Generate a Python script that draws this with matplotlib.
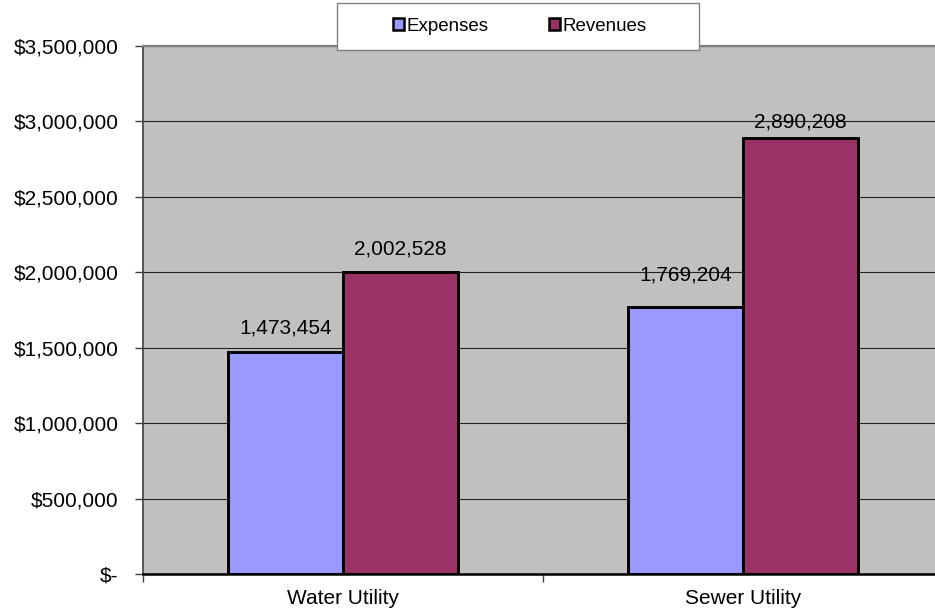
import matplotlib
matplotlib.use("Agg")
import matplotlib.pyplot as plt
from matplotlib.patches import Patch, Rectangle
from matplotlib.ticker import FuncFormatter, FixedLocator
import numpy as np

# Utility fund totals
categories = ["Water Utility", "Sewer Utility"]
expenses = [1473454, 1769204]
revenues = [2002528, 2890208]
series_names = ["Expenses", "Revenues"]
y_ticks = [0, 500000, 1000000, 1500000, 2000000, 2500000, 3000000, 3500000]

# label offsets above bar tops (points)
exp_label_offsets = [17.0, 23.0]
rev_label_offsets = [16.5, 11.5]

plt.rcParams["font.family"] = ["Liberation Sans", "DejaVu Sans"]

W, H = 935, 615
fig = plt.figure(figsize=(W / 100, H / 100), dpi=100)
fig.patch.set_facecolor("white")

left, right, top, bottom = 143, 943, 46, 574
ax = fig.add_axes([left / W, 1 - bottom / H, (right - left) / W, (bottom - top) / H])
ax.set_facecolor("#C0C0C0")

x = np.arange(len(categories))
bw = 0.2875
exp_color = "#9999FF"
rev_color = "#993366"

ax.bar(x - bw / 2, expenses, width=bw, color=exp_color, edgecolor="black",
       linewidth=2.1, zorder=3)
ax.bar(x + bw / 2, revenues, width=bw, color=rev_color, edgecolor="black",
       linewidth=2.1, zorder=3)

for xi, v, off in zip(x - bw / 2, expenses, exp_label_offsets):
    ax.annotate(f"{v:,}", (xi, v), xytext=(0, off), textcoords="offset points",
                ha="center", va="center", fontsize=15, zorder=5)
for xi, v, off in zip(x + bw / 2, revenues, rev_label_offsets):
    ax.annotate(f"{v:,}", (xi, v), xytext=(0, off), textcoords="offset points",
                ha="center", va="center", fontsize=15, zorder=5)

ax.set_xlim(-0.5, len(categories) - 0.5)
ax.set_ylim(0, 3500000)

ax.yaxis.set_major_locator(FixedLocator(y_ticks))
ax.yaxis.set_major_formatter(FuncFormatter(lambda v, p: "$-" if v == 0 else f"${v:,.0f}"))
ax.tick_params(axis="y", length=6, width=1, color="#404040", pad=11.5, labelsize=15)
ax.grid(axis="y", color="#222222", linewidth=0.8, zorder=1)

ax.set_xticks(x)
ax.set_xticklabels(categories)
ax.set_xticks([-0.5, 0.5, 1.5], minor=True)
ax.tick_params(axis="x", which="major", length=0, pad=11, labelsize=15)
ax.tick_params(axis="x", which="minor", length=6, width=1, color="#404040")

ax.spines["bottom"].set_color("black")
ax.spines["bottom"].set_linewidth(1.8)
ax.spines["bottom"].set_zorder(4)
ax.spines["left"].set_color("#404040")
ax.spines["left"].set_linewidth(1.2)
ax.spines["top"].set_color("#808080")
ax.spines["top"].set_linewidth(1.6)
ax.spines["right"].set_visible(False)

# legend box
lx0, ly0, lx1, ly1 = 337, 3, 699, 50
box = Rectangle((lx0 / W, 1 - ly1 / H), (lx1 - lx0) / W, (ly1 - ly0) / H,
                transform=fig.transFigure, facecolor="white", edgecolor="#808080",
                linewidth=1.0, zorder=4)
fig.add_artist(box)
handles = [Patch(facecolor=exp_color, edgecolor="black", linewidth=1.8, label=series_names[0]),
           Patch(facecolor=rev_color, edgecolor="black", linewidth=1.8, label=series_names[1])]
leg = fig.legend(handles=handles, loc="center", bbox_to_anchor=(520 / W, 1 - 26.5 / H),
                 ncol=2, frameon=False, fontsize=13.5, handlelength=0.6, handleheight=0.6,
                 handletextpad=0.15, columnspacing=3.2)
leg.set_zorder(6)

fig.savefig("out.png", dpi=100, facecolor="white")
